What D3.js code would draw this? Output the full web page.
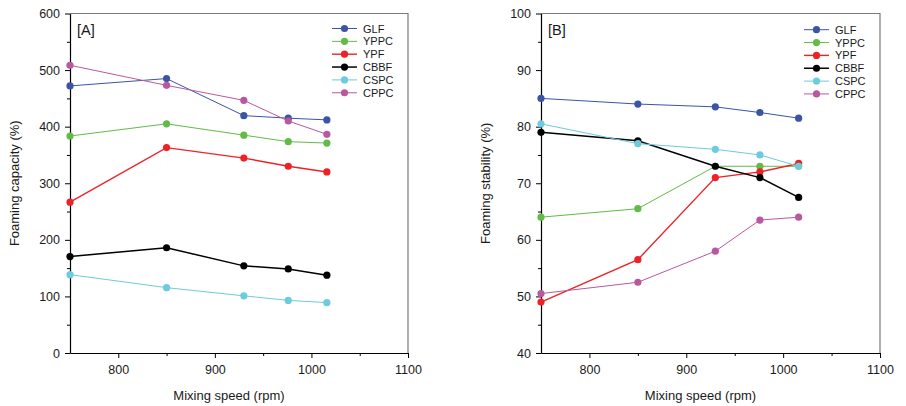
<!DOCTYPE html>
<html>
<head>
<meta charset="utf-8">
<script src="https://cdn.jsdelivr.net/npm/d3@7"></script>
<style>
  html, body { margin: 0; padding: 0; background: #fff; }
  svg { display: block; font-family: "Liberation Sans", Arial, sans-serif; }
</style>
</head>
<body>
<svg id="chart" width="906" height="406"></svg>
<script>
// Mixing speed (rpm) shared by both panels
const speeds = [750, 850, 930, 976, 1016];

const seriesNames = ["GLF", "YPPC", "YPF", "CBBF", "CSPC", "CPPC"];
const seriesColors = ["#3b54a5", "#62bb47", "#ee2226", "#000000", "#6ccbdc", "#b9589f"];

// [A] Foaming capacity (%)
const capGLF  = [472, 485, 419.5, 415, 412];
const capYPPC = [383.5, 405, 385, 373.5, 371];
const capYPF  = [266.5, 363, 344.5, 330, 320];
const capCBBF = [170.5, 186, 154, 148.5, 137.5];
const capCSPC = [138.5, 115.5, 101, 93, 89];
const capCPPC = [508.5, 473, 446.5, 410, 386.5];

// [B] Foaming stability (%)
const stabGLF  = [85, 84, 83.5, 82.5, 81.5];
const stabYPPC = [64, 65.5, 73, 73, 73];
const stabYPF  = [49, 56.5, 71, 72, 73.5];
const stabCBBF = [79, 77.5, 73, 71, 67.5];
const stabCSPC = [80.5, 77, 76, 75, 73];
const stabCPPC = [50.5, 52.5, 58, 63.5, 64];

const xTicks = [800, 900, 1000, 1100];
const xMinor = [850, 950, 1050];
const capTicks = [0, 100, 200, 300, 400, 500, 600];
const capMinor = [50, 150, 250, 350, 450, 550];
const stabTicks = [40, 50, 60, 70, 80, 90, 100];
const stabMinor = [45, 55, 65, 75, 85, 95];

const lineWidths = [1, 1, 1.4, 1.5, 1, 1];
const txt = "#1a1a1a";

const svg = d3.select("#chart");

function panel(opt) {
  const g = svg.append("g");
  const x = d3.scaleLinear().domain([750, 1100]).range([opt.left, opt.right]);
  const y = d3.scaleLinear().domain(opt.yDomain).range([opt.bottom, opt.top]);

  // top and right frame in gray
  g.append("path")
    .attr("d", `M${opt.left},${opt.top}H${opt.right}V${opt.bottom}`)
    .attr("fill", "none").attr("stroke", "#7a7a7a").attr("stroke-width", 1.2);

  // x axis: major ticks labelled, minor ticks short
  const xa = g.append("g").attr("transform", `translate(0,${opt.bottom})`)
    .call(d3.axisBottom(x).tickValues(xTicks).tickFormat(d3.format("d")).tickSize(5).tickSizeOuter(0).tickPadding(7));
  g.append("g").attr("transform", `translate(0,${opt.bottom})`)
    .call(d3.axisBottom(x).tickValues(xMinor).tickFormat("").tickSize(3).tickSizeOuter(0))
    .select(".domain").remove();

  const ya = g.append("g").attr("transform", `translate(${opt.left},0)`)
    .call(d3.axisLeft(y).tickValues(opt.yTicks).tickSize(5).tickSizeOuter(0).tickPadding(5));
  g.append("g").attr("transform", `translate(${opt.left},0)`)
    .call(d3.axisLeft(y).tickValues(opt.yMinor).tickFormat("").tickSize(3).tickSizeOuter(0))
    .select(".domain").remove();

  g.selectAll(".domain").attr("stroke", "#000").attr("stroke-width", 1.2);
  g.selectAll(".tick line").attr("stroke", "#000");
  g.selectAll(".tick text").attr("fill", txt).style("font-size", "12.5px")
    .style("font-family", "\"Liberation Sans\", Arial, sans-serif");

  // axis titles
  g.append("text")
    .attr("x", (opt.left + opt.right) / 2 - 10).attr("y", 400)
    .attr("text-anchor", "middle").attr("fill", txt).style("font-size", "13px")
    .text("Mixing speed (rpm)");
  g.append("text")
    .attr("transform", `translate(${opt.left - 51},${(opt.top + opt.bottom) / 2}) rotate(-90)`)
    .attr("text-anchor", "middle").attr("fill", txt).style("font-size", "13px")
    .text(opt.yTitle);

  g.append("text")
    .attr("x", opt.left + 7).attr("y", 35)
    .attr("fill", txt).style("font-size", "14.5px")
    .text(opt.tag);

  // series lines + markers
  const line = d3.line().x((d, i) => x(speeds[i])).y((d) => y(d));
  opt.series.forEach((vals, s) => {
    g.append("path").datum(vals)
      .attr("fill", "none").attr("stroke", seriesColors[s])
      .attr("stroke-width", lineWidths[s]).attr("d", line);
    g.selectAll(null).data(vals).enter().append("circle")
      .attr("cx", (d, i) => x(speeds[i])).attr("cy", (d) => y(d))
      .attr("r", 3.6).attr("fill", seriesColors[s]);
  });

  // legend
  const lg = g.append("g").attr("transform", `translate(${opt.legendX},${opt.legendY})`);
  seriesNames.forEach((name, s) => {
    const row = lg.append("g").attr("transform", `translate(0,${s * 12.85})`);
    row.append("line").attr("x1", 0).attr("x2", 25).attr("y1", 0).attr("y2", 0)
      .attr("stroke", seriesColors[s]).attr("stroke-width", lineWidths[s]);
    row.append("circle").attr("cx", 12.5).attr("cy", 0).attr("r", 3.6).attr("fill", seriesColors[s]);
    row.append("text").attr("x", 31).attr("y", 4).attr("fill", txt)
      .style("font-size", "11px").text(name);
  });
}

panel({
  left: 70, right: 408, top: 13.5, bottom: 353,
  yDomain: [0, 600], yTicks: capTicks, yMinor: capMinor,
  yTitle: "Foaming capacity (%)", tag: "[A]",
  series: [capGLF, capYPPC, capYPF, capCBBF, capCSPC, capCPPC],
  legendX: 332, legendY: 28.5
});

panel({
  left: 541, right: 880, top: 13.5, bottom: 353,
  yDomain: [40, 100], yTicks: stabTicks, yMinor: stabMinor,
  yTitle: "Foaming stability (%)", tag: "[B]",
  series: [stabGLF, stabYPPC, stabYPF, stabCBBF, stabCSPC, stabCPPC],
  legendX: 804, legendY: 29.7
});
</script>
</body>
</html>
